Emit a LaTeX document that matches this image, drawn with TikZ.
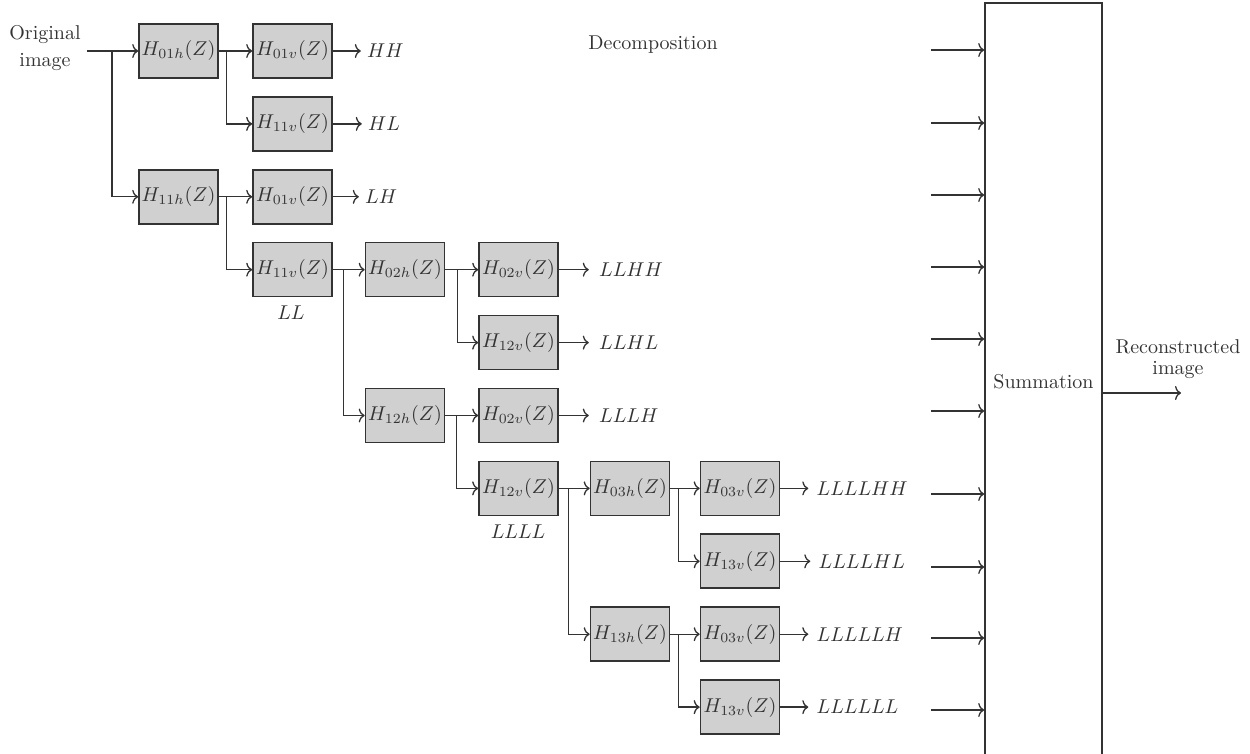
\documentclass[tikz,border=0pt]{standalone}
\usetikzlibrary{arrows.meta,calc}
\definecolor{ln}{HTML}{333333}
\definecolor{bx}{HTML}{D0D0D0}
\begin{document}
\begin{tikzpicture}[x=0.5pt,y=-0.5pt,
  filt/.style={draw=ln,line width=0.8pt,fill=bx,minimum width=39.5pt,minimum height=27pt,inner sep=0pt,text=ln},
  arr/.style={draw=ln,line width=0.65pt,-{To[length=3pt,width=7pt]}},
  lbl/.style={text=ln,inner sep=0pt},
  outl/.style={text=ln,inner sep=0pt,anchor=west}]
\useasboundingbox (0,0) rectangle (1250,754);
% columns / rows
\def\cA{178.5}\def\cB{292.5}\def\cC{405}\def\cD{518.5}\def\cE{630}\def\cF{740}
\def\rA{51}\def\rB{123.9}\def\rC{196.8}\def\rD{269.7}\def\rE{342.6}\def\rF{415.5}\def\rG{488.4}\def\rH{561.3}\def\rI{634.2}\def\rJ{707.1}
% filters
\node[filt] (a1) at (\cA,\rA) {$H_{01h}(Z)$};
\node[filt] (b1) at (\cB,\rA) {$H_{01v}(Z)$};
\node[filt] (b2) at (\cB,\rB) {$H_{11v}(Z)$};
\node[filt] (a3) at (\cA,\rC) {$H_{11h}(Z)$};
\node[filt] (b3) at (\cB,\rC) {$H_{01v}(Z)$};
\node[filt] (b4) at (\cB,\rD) {$H_{11v}(Z)$};
\node[filt] (c4) at (\cC,\rD) {$H_{02h}(Z)$};
\node[filt] (d4) at (\cD,\rD) {$H_{02v}(Z)$};
\node[filt] (d5) at (\cD,\rE) {$H_{12v}(Z)$};
\node[filt] (c6) at (\cC,\rF) {$H_{12h}(Z)$};
\node[filt] (d6) at (\cD,\rF) {$H_{02v}(Z)$};
\node[filt] (d7) at (\cD,\rG) {$H_{12v}(Z)$};
\node[filt] (e7) at (\cE,\rG) {$H_{03h}(Z)$};
\node[filt] (f7) at (\cF,\rG) {$H_{03v}(Z)$};
\node[filt] (f8) at (\cF,\rH) {$H_{13v}(Z)$};
\node[filt] (e9) at (\cE,\rI) {$H_{13h}(Z)$};
\node[filt] (f9) at (\cF,\rI) {$H_{03v}(Z)$};
\node[filt] (f10) at (\cF,\rJ) {$H_{13v}(Z)$};
% texts
\node[lbl,align=center] (orig) at (45,48) {Original\\[1.5pt]image};
\node[lbl] (dec) at (653,45) {Decomposition};
\node[lbl] (ll) at (291,313) {$LL$};
\node[lbl] (llll) at (518,532) {$LLLL$};
% summation
\node[draw=ln,line width=0.8pt,fill=white,minimum width=58.5pt,minimum height=378.5pt,inner sep=0pt,text=ln] (sum) at (1043.5,381.5) {Summation};
\node[lbl,align=center] (rec) at (1178,359) {Reconstructed\\[-1.5pt]image};
\coordinate (outend) at (1181,393);
\draw[arr] (outend -| sum.east) -- (outend);
% input
\coordinate (inp) at (87,\rA);
\coordinate (jin) at (112,\rA);
\draw[arr] (inp) -- (a1.west);
\draw[arr] (jin) |- (a3.west);
% splits
\coordinate (j1) at ($(a1.east)+(8,0)$);
\draw[arr] (a1.east) -- (b1.west);
\draw[arr] (j1) |- (b2.west);
\coordinate (j3) at ($(a3.east)+(8,0)$);
\draw[arr] (a3.east) -- (b3.west);
\draw[arr] (j3) |- (b4.west);
\coordinate (j4) at ($(b4.east)+(11,0)$);
\draw[arr] (b4.east) -- (c4.west);
\draw[arr] (j4) |- (c6.west);
\coordinate (j5) at ($(c4.east)+(12,0)$);
\draw[arr] (c4.east) -- (d4.west);
\draw[arr] (j5) |- (d5.west);
\coordinate (j6) at ($(c6.east)+(11,0)$);
\draw[arr] (c6.east) -- (d6.west);
\draw[arr] (j6) |- (d7.west);
\coordinate (j7) at ($(d7.east)+(10,0)$);
\draw[arr] (d7.east) -- (e7.west);
\draw[arr] (j7) |- (e9.west);
\coordinate (j8) at ($(e7.east)+(8,0)$);
\draw[arr] (e7.east) -- (f7.west);
\draw[arr] (j8) |- (f8.west);
\coordinate (j9) at ($(e9.east)+(8,0)$);
\draw[arr] (e9.east) -- (f9.west);
\draw[arr] (j9) |- (f10.west);
% outputs
\node[outl] (o1) at ($(b1.east)+(34,0)$) {$HH$};
\node[outl] (o2) at ($(b2.east)+(35,0)$) {$HL$};
\node[outl] (o3) at ($(b3.east)+(32,0)$) {$LH$};
\node[outl] (o4) at ($(d4.east)+(40,0)$) {$LLHH$};
\node[outl] (o5) at ($(d5.east)+(40,0)$) {$LLHL$};
\node[outl] (o6) at ($(d6.east)+(40,0)$) {$LLLH$};
\node[outl] (o7) at ($(f7.east)+(36,0)$) {$LLLLHH$};
\node[outl] (o8) at ($(f8.east)+(38,0)$) {$LLLLHL$};
\node[outl] (o9) at ($(f9.east)+(36,0)$) {$LLLLLH$};
\node[outl] (o10) at ($(f10.east)+(36,0)$) {$LLLLLL$};
\draw[arr] (b1.east) -- ($(o1.west)+(-6,0)$);
\draw[arr] (b2.east) -- ($(o2.west)+(-6,0)$);
\draw[arr] (b3.east) -- ($(o3.west)+(-6,0)$);
\draw[arr] (d4.east) -- ($(o4.west)+(-10,0)$);
\draw[arr] (d5.east) -- ($(o5.west)+(-10,0)$);
\draw[arr] (d6.east) -- ($(o6.west)+(-10,0)$);
\draw[arr] (f7.east) -- ($(o7.west)+(-8,0)$);
\draw[arr] (f8.east) -- ($(o8.west)+(-8,0)$);
\draw[arr] (f9.east) -- ($(o9.west)+(-8,0)$);
\draw[arr] (f10.east) -- ($(o10.west)+(-8,0)$);
% inputs to summation
\foreach \y [count=\i] in {50,123,195,267,339,411,494,567,638,710}{
  \coordinate (s\i) at (931,\y);
  \draw[arr] (s\i) -- (s\i -| sum.west);
}
\end{tikzpicture}
\end{document}
